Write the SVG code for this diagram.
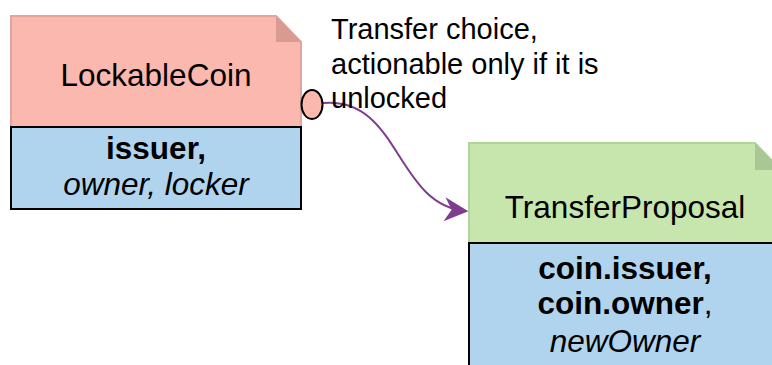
<svg xmlns="http://www.w3.org/2000/svg" width="772" height="365" viewBox="0 0 772 365">
<defs>
<style>
text{font-family:"Liberation Sans",Arial,sans-serif;fill:#000;}
.t{font-size:31.5px;text-anchor:middle;}
.a{font-size:31.5px;text-anchor:middle;}
.l{font-size:29px;}
.b{font-weight:bold;}
.i{font-style:italic;}
.attr{fill:#b1d4ee;stroke:#000;stroke-width:2;}
</style>
<marker id="arr" viewBox="0 0 10 10" refX="9" refY="5" markerWidth="24" markerHeight="24" markerUnits="userSpaceOnUse" orient="auto">
<path d="M0,0 L10,5 L0,10 L3,5 Z" fill="#7f3d8f"/>
</marker>
</defs>
<g id="connectors">
<path d="M323,103 C400,96 395,205 466,211" fill="none" stroke="#7f3d8f" stroke-width="2" marker-end="url(#arr)"/>
<text class="l" x="331" y="39">Transfer choice,</text>
<text class="l" x="331" y="73.5">actionable only if it is</text>
<text class="l" x="331" y="108">unlocked</text>
</g>
<g id="LockableCoin">
<path d="M11,16 H276 L301,42 V127 H11 Z" fill="#fbb8ae" stroke="#e2a49b" stroke-width="2"/>
<path d="M276,16 L301,42 H276 Z" fill="#d99a91"/>
<rect class="attr" x="11" y="127" width="290" height="82"/>
<text class="t" x="156" y="86">LockableCoin</text>
<text class="a b" x="156" y="159">issuer,</text>
<text class="a i" x="156" y="195">owner, locker</text>
</g>
<g id="circle">
<ellipse cx="312" cy="104.5" rx="10.5" ry="14.5" fill="#fbb8ae" stroke="#000" stroke-width="2"/>
</g>
<g id="TransferProposal">
<path d="M469,143 H755 L781,170 V243 H469 Z" fill="#c6e6ad" stroke="#b0d59a" stroke-width="2"/>
<path d="M755,143 L781,170 H755 Z" fill="#a9c794"/>
<rect class="attr" x="469" y="243" width="312" height="130"/>
<text class="t" x="625" y="218">TransferProposal</text>
<text class="a b" x="625" y="279">coin.issuer,</text>
<text class="a" x="625" y="314"><tspan class="b">coin.owner</tspan>,</text>
<text class="a i" x="625" y="352">newOwner</text>
</g>
</svg>
